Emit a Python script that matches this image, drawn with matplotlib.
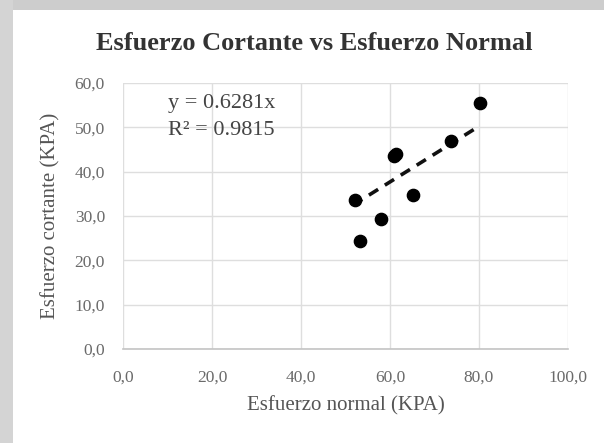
import matplotlib
matplotlib.use("Agg")
import matplotlib.pyplot as plt
from matplotlib.patches import Rectangle
import numpy as np

# data
normal_kpa = [52.1, 53.3, 57.9, 60.9, 61.4, 65.2, 73.6, 80.2]
cortante_kpa = [33.6, 24.4, 29.3, 43.6, 43.9, 34.7, 46.9, 55.4]
slope = 0.6281
r2 = 0.9815
xticks = [0, 20, 40, 60, 80, 100]
yticks = [0, 10, 20, 30, 40, 50, 60]

plt.rcParams['font.family'] = ['Liberation Serif', 'DejaVu Serif']

fig = plt.figure(figsize=(6.04, 4.43), dpi=100, facecolor='white')
# grey margin on top and left from the photo
fig.patches.append(Rectangle((0, 1 - 10/443), 1, 10/443, transform=fig.transFigure,
                             facecolor='#cdcdcd', edgecolor='none'))
fig.patches.append(Rectangle((0, 0), 13/604, 1, transform=fig.transFigure,
                             facecolor='#d4d4d4', edgecolor='none'))

ax = fig.add_axes([123/604, 1 - 349/443, 445/604, 266/443])
ax.set_facecolor('white')
ax.set_xlim(0, 100)
ax.set_ylim(0, 60)
ax.set_xticks(xticks)
ax.set_yticks(yticks)
ax.set_xticklabels([f"{v:.1f}".replace('.', ',') for v in xticks])
ax.set_yticklabels([f"{v:.1f}".replace('.', ',') for v in yticks])
ax.tick_params(length=0, labelsize=12.5, colors='#6a6a6a')
ax.tick_params(axis='y', pad=13)
ax.tick_params(axis='x', pad=15)
ax.grid(True, color='#dedede', linewidth=1)
ax.set_axisbelow(True)
for s in ['top', 'right', 'left']:
    ax.spines[s].set_visible(False)
ax.spines['bottom'].set_color('#c4c4c4')
ax.spines['bottom'].set_linewidth(1.2)

ax.scatter(normal_kpa, cortante_kpa, s=78, color='black', zorder=3)
xt = np.array([min(normal_kpa), max(normal_kpa)])
ax.plot(xt, slope * xt, color='#111111', linestyle=(0.6, (3, 2.2)), linewidth=2.6, zorder=2)

ax.text(10, 55.4, f"y = {slope}x", fontsize=16, color='#444444', va='center')
ax.text(10, 49.3, f"R² = {r2}", fontsize=16, color='#444444', va='center')

ax.set_xlabel("Esfuerzo normal (KPA)", fontsize=15, color='#555555', va='center')
ax.set_ylabel("Esfuerzo cortante (KPA)", fontsize=15, color='#555555', va='center')
ax.xaxis.set_label_coords(0.5, (349 - 406) / 266)
ax.yaxis.set_label_coords((51 - 123) / 445, 0.5)

fig.text(314/604, 1 - 43/443, "Esfuerzo Cortante vs Esfuerzo Normal",
         fontsize=19, fontweight='bold', color='#333333', ha='center', va='center')

fig.savefig("out.png", dpi=100, facecolor=fig.get_facecolor())
